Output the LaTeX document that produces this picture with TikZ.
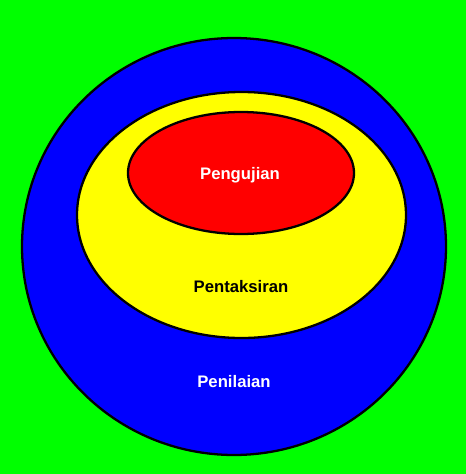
\documentclass[tikz,border=0pt]{standalone}
\usepackage{fontspec}
\setmainfont{Liberation Sans}
\definecolor{bgreen}{RGB}{0,255,0}
\definecolor{bblue}{RGB}{0,0,255}
\definecolor{byellow}{RGB}{255,255,0}
\definecolor{bred}{RGB}{255,0,0}
\tikzset{ring/.style={draw=black,line width=1.3pt}, lbl/.style={font=\fontsize{9.5}{11}\selectfont\bfseries}}
\begin{document}
\begin{tikzpicture}[x=0.02cm,y=-0.02cm]
\fill[bgreen] (0,0) rectangle (466,474);
\draw[ring,fill=bblue] (234,246.5) ellipse (212 and 208.5);
\draw[ring,fill=byellow] (241.5,215) ellipse (164.5 and 123);
\draw[ring,fill=bred] (241,173) ellipse (113 and 61);
\node[lbl,text=white] (uji) at (240,175) {Pengujian};
\node[lbl,text=black] (taksir) at (241,287) {Pentaksiran};
\node[lbl,text=white] (nilai) at (234,382) {Penilaian};
\end{tikzpicture}
\end{document}
